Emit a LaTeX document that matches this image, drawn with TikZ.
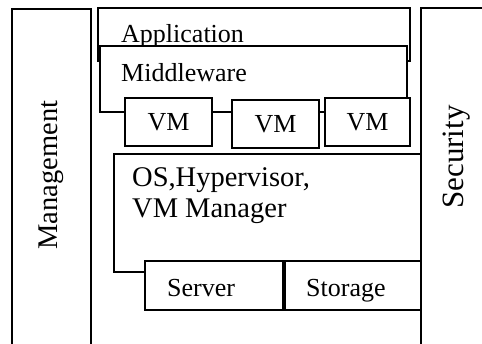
\documentclass[tikz,border=0pt]{standalone}
\usepackage{fontspec}
\setmainfont{Liberation Serif}
\begin{document}
\begin{tikzpicture}[x=1pt,y=-1pt,
  boxline/.style={draw=black,line width=1.5pt,fill=white},
  openline/.style={draw=black,line width=1.5pt},
  lbl/.style={inner sep=0pt,font=\fontsize{26}{31}\selectfont},
  biglbl/.style={inner sep=0pt,font=\fontsize{28.5}{31}\selectfont}]
\useasboundingbox (0,0) rectangle (482,344);
% Management
\draw[openline] (12,346) -- (12,9) -- (91,9) -- (91,346);
\node[lbl,rotate=90,font=\fontsize{28.5}{31}\selectfont] (mgmt) at (51,175) {Management};
% Application / Middleware
\draw[boxline] (98,8) rectangle (410,61);
\node[lbl,anchor=base west] (app) at (121,43) {Application};
\draw[boxline] (100,46) rectangle (407,112);
\node[lbl,anchor=base west] (mw) at (121,82) {Middleware};
% VMs
\draw[boxline] (125,98) rectangle (212,146);
\node[lbl] (vm1) at (168.5,122) {VM};
\draw[boxline] (232,100) rectangle (319,148);
\node[lbl] (vm2) at (275.5,124) {VM};
\draw[boxline] (325,98) rectangle (410,146);
\node[lbl] (vm3) at (367.5,122) {VM};
% OS
\draw[boxline] (114,154) rectangle (421,272);
\node[biglbl,anchor=base west] (os1) at (132,187) {OS,Hypervisor,};
\node[biglbl,anchor=base west] (os2) at (132,218) {VM Manager};
\draw[boxline] (145,261) rectangle (283,310);
\node[lbl,anchor=base west] (srv) at (167,297) {Server};
\draw[boxline] (285,261) rectangle (421,310);
\node[lbl,anchor=base west] (sto) at (306,297) {Storage};
% Security
\draw[openline] (421,346) -- (421,8) -- (484,8);
\node[lbl,rotate=90,font=\fontsize{31}{31}\selectfont] (sec) at (457,157) {Security};
\end{tikzpicture}
\end{document}
